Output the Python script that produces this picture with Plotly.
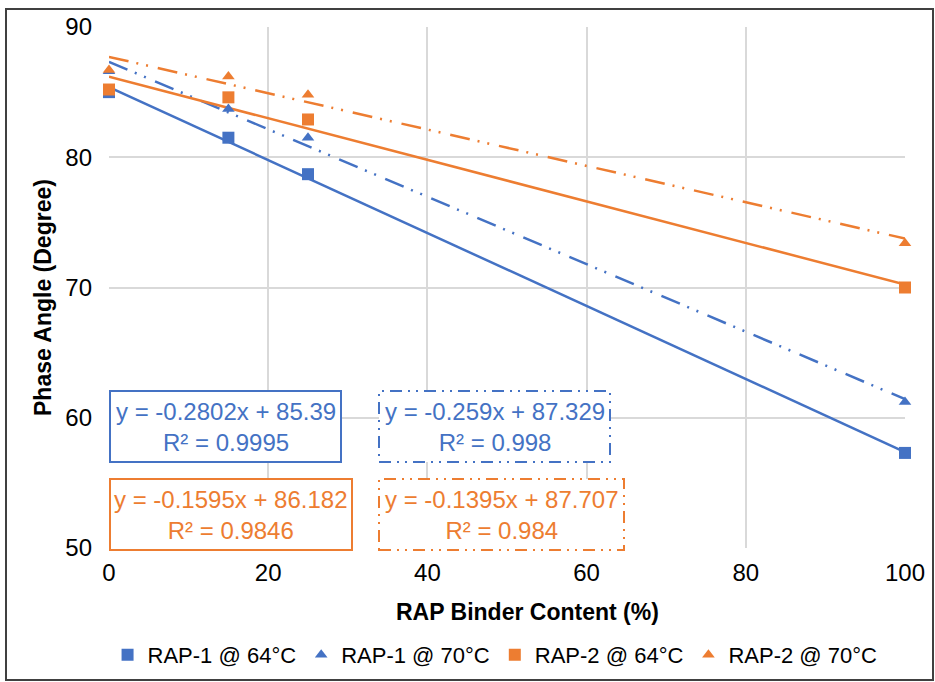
import plotly.graph_objects as go
import numpy as np

# ---------------- data ----------------
x_content = [0, 15, 25, 100]
rap1_64 = [85.0, 81.5, 78.7, 57.3]
rap1_70 = [86.6, 83.7, 81.5, 61.2]
rap2_64 = [85.2, 84.6, 82.9, 70.0]
rap2_70 = [86.7, 86.2, 84.8, 73.4]
series_names = ["RAP-1 @ 64°C", "RAP-1 @ 70°C", "RAP-2 @ 64°C", "RAP-2 @ 70°C"]
trend_slopes = [-0.2802, -0.259, -0.1595, -0.1395]
trend_intercepts = [85.39, 87.329, 86.182, 87.707]
r_squared = ["0.9995", "0.998", "0.9846", "0.984"]
x_ticks = [0, 20, 40, 60, 80, 100]
y_ticks = [50, 60, 70, 80, 90]

# ---------------- style ----------------
BLUE = "#4472C4"
ORANGE = "#ED7D31"
FONT = "Liberation Sans, Arial, sans-serif"
DASHDOT = "20px,8px,2px,8px,2px,10px"
series_vals = [rap1_64, rap1_70, rap2_64, rap2_70]
colors = [BLUE, BLUE, ORANGE, ORANGE]
symbols = ["square", "triangle-up", "square", "triangle-up"]
msizes = [12, 11, 12, 11]
dashes = ["solid", DASHDOT, "solid", DASHDOT]

# plot area in pixels (for layout placement of boxes)
L, R, T, B = 109, 905, 27, 548
W, H = 935, 682


def px_x(p):
    return (p - L) / (R - L)


def px_y(p):
    return (B - p) / (B - T)


fig = go.Figure()

# trendlines
xt = np.array([0, 100])
for m, b, c, d in zip(trend_slopes, trend_intercepts, colors, dashes):
    fig.add_trace(go.Scatter(
        x=xt, y=m * xt + b, mode="lines",
        line=dict(color=c, width=2.5, dash=d),
        showlegend=False, hoverinfo="skip"))

# markers
for name, vals, c, s, ms in zip(series_names, series_vals, colors, symbols, msizes):
    fig.add_trace(go.Scatter(
        x=x_content, y=vals, mode="markers", name=name, cliponaxis=False,
        marker=dict(color=c, symbol=s, size=ms)))

# equation boxes (layout positions in px)
boxes = [
    (110, 341, 391, 462),
    (379, 610, 391, 462),
    (110, 352, 479, 550),
    (379, 624, 479, 550),
]
shapes = []
annotations = []
for (x0, x1, y0, y1), m, b, r2, c, d in zip(boxes, trend_slopes, trend_intercepts,
                                           r_squared, colors, dashes):
    shapes.append(dict(type="rect", xref="paper", yref="paper",
                       x0=px_x(x0), x1=px_x(x1), y0=px_y(y1), y1=px_y(y0),
                       line=dict(color=c, width=2,
                                 dash="solid" if d == "solid" else "12px,6px,2px,6px,2px,6px"),
                       fillcolor="white", layer="above"))
    annotations.append(dict(
        xref="paper", yref="paper", x=px_x((x0 + x1) / 2), y=px_y((y0 + y1) / 2),
        xanchor="center", yanchor="middle", showarrow=False,
        text=f"y = {m}x + {b}<br>R² = {r2}",
        font=dict(family=FONT, size=24, color=c), align="center"))

# outer chart frame
shapes.append(dict(type="rect", xref="paper", yref="paper",
                   x0=px_x(6), x1=px_x(933), y0=px_y(680), y1=px_y(9),
                   line=dict(color="#404040", width=2), layer="above"))

# axis titles
annotations.append(dict(xref="paper", yref="paper", x=px_x(527), y=px_y(612),
                        xanchor="center", yanchor="middle", showarrow=False,
                        text="<b>RAP Binder Content (%)</b>",
                        font=dict(family=FONT, size=23, color="#000000")))
annotations.append(dict(xref="paper", yref="paper", x=px_x(43), y=px_y(298),
                        xanchor="center", yanchor="middle", showarrow=False,
                        textangle=-90, text="<b>Phase Angle (Degree)</b>",
                        font=dict(family=FONT, size=23, color="#000000")))

fig.update_layout(
    width=W, height=H,
    margin=dict(l=L, r=W - R, t=T, b=H - B, autoexpand=False),
    paper_bgcolor="white", plot_bgcolor="white",
    font=dict(family=FONT, size=22, color="#000000"),
    shapes=shapes, annotations=annotations,
    showlegend=True,
    legend=dict(orientation="h", x=0.485, xanchor="center",
                y=px_y(655), yanchor="middle",
                font=dict(family=FONT, size=22, color="#000000"),
                bgcolor="rgba(0,0,0,0)", itemclick=False),
    xaxis=dict(range=[0, 100], tickvals=x_ticks, showgrid=True,
               gridcolor="#D9D9D9", gridwidth=1.5, zeroline=False,
               showline=False, ticks="", ticklabelstandoff=8,
               tickfont=dict(family=FONT, size=24, color="#000000")),
    yaxis=dict(range=[50, 90], tickvals=y_ticks, showgrid=True,
               gridcolor="#D9D9D9", gridwidth=1.5, zeroline=False,
               showline=False, ticks="", ticklabelstandoff=16,
               tickfont=dict(family=FONT, size=24, color="#000000")),
)

fig.write_html("out.html")
